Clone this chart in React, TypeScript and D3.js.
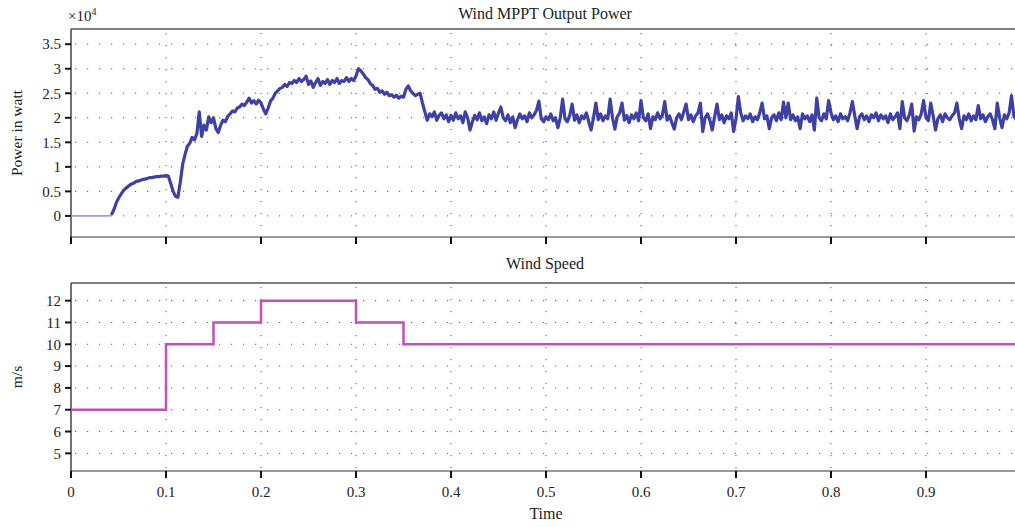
import React from "react";
import * as d3 from "d3";

// ---- data ----
const xTicks = [0, 0.1, 0.2, 0.3, 0.4, 0.5, 0.6, 0.7, 0.8, 0.9];
const powerTicks = [0, 0.5, 1, 1.5, 2, 2.5, 3, 3.5];
const speedTicks = [5, 6, 7, 8, 9, 10, 11, 12];

const powerStep = 0.0025; // seconds between samples
// power (x10^4 W), one row per 0.05 s
const power: number[] = [
  0,0,0,0,0,0,0,0,0,0,0,0,0,0,0,0,0,0.02,0.12,0.26,
  0.36,0.44,0.51,0.56,0.6,0.64,0.66,0.69,0.71,0.72,0.74,0.75,0.76,0.78,0.78,0.79,0.8,0.8,0.81,0.81,
  0.82,0.81,0.66,0.5,0.4,0.38,0.68,1.05,1.25,1.42,1.48,1.6,1.55,1.68,2.12,1.62,1.85,1.75,2.02,1.9,
  2.0,1.78,1.7,1.85,1.95,1.92,2.03,2.08,2.14,2.12,2.2,2.22,2.28,2.25,2.32,2.4,2.3,2.35,2.28,2.36,
  2.3,2.18,2.08,2.2,2.34,2.4,2.5,2.55,2.6,2.62,2.68,2.64,2.72,2.7,2.76,2.72,2.8,2.74,2.78,2.85,
  2.68,2.75,2.62,2.72,2.8,2.66,2.74,2.7,2.78,2.68,2.76,2.72,2.8,2.7,2.76,2.74,2.82,2.74,2.8,2.76,
  2.85,3.0,2.96,2.9,2.82,2.78,2.7,2.66,2.58,2.6,2.52,2.55,2.48,2.52,2.45,2.47,2.42,2.46,2.4,2.44,
  2.42,2.58,2.65,2.55,2.5,2.45,2.48,2.5,2.3,2.12,1.95,2.08,2.02,2.12,1.95,2.05,2.1,1.98,2.06,1.92,
  2.05,1.95,2.1,1.98,2.04,1.9,2.12,2.0,1.75,1.92,2.05,1.96,2.1,1.94,2.02,1.88,2.06,1.98,2.12,1.95,
  2.1,2.22,2.0,1.94,2.06,1.9,2.02,1.8,1.96,2.08,1.98,2.04,1.92,2.1,2.0,2.06,2.15,2.34,1.98,1.92,
  2.02,1.96,2.08,1.94,2.0,1.8,2.0,2.38,1.98,1.92,2.05,2.28,1.95,2.06,1.9,2.04,1.98,2.1,1.92,1.75,
  2.0,2.3,1.96,2.08,1.94,2.04,1.98,2.38,2.0,1.77,2.02,2.1,2.3,1.95,2.05,1.9,2.06,1.98,2.1,1.94,
  2.35,2.0,1.94,2.08,1.78,2.02,1.96,2.1,1.98,2.05,2.33,1.95,2.04,1.9,1.77,2.0,2.08,1.96,2.12,2.28,
  1.96,2.06,1.92,2.04,2.1,2.3,1.72,2.0,2.08,1.95,1.75,2.02,2.28,1.96,2.06,1.9,2.04,1.98,2.1,1.72,
  1.98,2.43,2.1,1.94,2.04,1.98,2.08,1.92,2.02,1.96,2.1,2.3,1.98,2.04,1.78,2.0,2.06,1.94,2.1,1.96,
  2.32,2.0,2.3,1.96,2.06,1.94,2.02,1.78,2.08,1.98,2.04,1.92,2.06,1.75,2.4,2.0,1.94,2.08,1.98,2.35,
  2.1,1.96,2.04,1.92,2.08,1.98,2.02,1.94,2.1,2.33,2.04,1.78,2.02,2.08,1.96,2.04,1.92,2.06,2.0,2.1,
  1.94,2.06,1.98,2.04,1.9,2.08,1.96,2.02,2.1,1.78,2.33,2.0,1.94,2.06,2.28,1.73,2.02,1.96,2.08,2.35,
  2.0,1.94,2.3,2.04,1.75,1.98,2.06,1.92,2.08,2.0,1.96,2.04,2.1,2.3,1.98,1.78,2.04,1.96,2.08,1.94,
  2.04,1.96,2.25,1.98,2.06,1.92,2.02,2.08,1.96,1.78,2.3,2.0,1.8,2.06,1.98,2.1,2.45,2.04,1.96,2.02,
];

const speedTimes = [0, 0.1, 0.15, 0.2, 0.3, 0.35, 1.0];
const speedValues = [7, 10, 11, 12, 11, 10, 10];

// ---- layout ----
const W = 1015;
const H = 527;
const left = 71;
const rightEnd = 1021;
const top1 = 29, bot1 = 237;
const top2 = 283, bot2 = 471;
const FONT = "'Liberation Serif', 'Times New Roman', serif";

export default function App() {
  const x = d3.scaleLinear().domain([0, 1]).range([left, rightEnd]);
  const y1 = d3.scaleLinear().domain([-0.43, 3.81]).range([bot1, top1]);
  const y2 = d3.scaleLinear().domain([4.19, 12.81]).range([bot2, top2]);

  const pts: [number, number][] = power.map((v, i) => [i * powerStep, v]);
  const zeroPts = pts.slice(0, 18);
  const livePts = pts.slice(17);
  const line1 = d3.line<[number, number]>().x(d => x(d[0])).y(d => y1(d[1]));
  const line2 = d3
    .line<number>()
    .x((_, i) => x(speedTimes[i]))
    .y(d => y2(d))
    .curve(d3.curveStepAfter);

  const grid = "#555";
  const dash = "1.2,10.8";

  const panel = (
    y: d3.ScaleLinear<number, number>,
    top: number,
    bot: number,
    yTicks: number[],
    showLabels: boolean,
    key: string
  ) => (
    <g key={key}>
      {yTicks.map(t => (
        <line key={"h" + t} x1={left + 4} x2={W} y1={y(t)} y2={y(t)} stroke={grid} strokeWidth={1} strokeDasharray={dash} />
      ))}
      {xTicks.filter(t => t > 0).map(t => (
        <line key={"v" + t} x1={x(t)} x2={x(t)} y1={top + 4} y2={bot} stroke={grid} strokeWidth={1} strokeDasharray={dash} />
      ))}
      <line x1={left} x2={W} y1={top} y2={top} stroke="#555" strokeWidth={1.5} />
      <line x1={left} x2={W} y1={bot} y2={bot} stroke="#777" strokeWidth={1.5} />
      <line x1={left} x2={left} y1={top} y2={bot} stroke="#444" strokeWidth={1.5} />
      {yTicks.map(t => (
        <g key={"yt" + t}>
          <line x1={left - 6} x2={left} y1={y(t)} y2={y(t)} stroke="#111" strokeWidth={2} />
          <text x={left - 10} y={y(t)} dy="0.35em" textAnchor="end" fontSize={15} fontFamily={FONT} fill="#222">
            {t}
          </text>
        </g>
      ))}
      {xTicks.map(t => (
        <g key={"xt" + t}>
          <line x1={x(t)} x2={x(t)} y1={bot} y2={bot + 7} stroke="#111" strokeWidth={2} />
          {showLabels && (
            <text x={x(t)} y={bot + 26} textAnchor="middle" fontSize={15} fontFamily={FONT} fill="#222">
              {t}
            </text>
          )}
        </g>
      ))}
    </g>
  );

  return (
    <svg width={W} height={H} style={{ position: "absolute", left: 0, top: 0, background: "#fff" }}>
      <defs>
        <clipPath id="c1">
          <rect x={left} y={top1} width={W - left} height={bot1 - top1} />
        </clipPath>
        <clipPath id="c2">
          <rect x={left} y={top2} width={W - left} height={bot2 - top2} />
        </clipPath>
      </defs>
      <rect x={0} y={0} width={W} height={H} fill="#fff" />
      {panel(y1, top1, bot1, powerTicks, false, "p1")}
      {panel(y2, top2, bot2, speedTicks, true, "p2")}

      <g clipPath="url(#c1)">
        <path d={line1(zeroPts) || ""} fill="none" stroke="#9c9ce0" strokeWidth={1.6} />
        <path d={line1(livePts) || ""} fill="none" stroke="#3e40a3" strokeWidth={3.2} strokeLinejoin="round" />
      </g>
      <g clipPath="url(#c2)">
        <path d={line2(speedValues) || ""} fill="none" stroke="#c54fb4" strokeWidth={2.5} />
      </g>

      <text x={545} y={19} textAnchor="middle" fontSize={16} fontFamily={FONT} fill="#222">
        Wind MPPT Output Power
      </text>
      <text x={545} y={269} textAnchor="middle" fontSize={16} fontFamily={FONT} fill="#222">
        Wind Speed
      </text>
      <text x={546} y={519} textAnchor="middle" fontSize={16} fontFamily={FONT} fill="#222">
        Time
      </text>
      <text transform={`translate(22,${(top1 + bot1) / 2}) rotate(-90)`} textAnchor="middle" fontSize={15.5} fontFamily={FONT} fill="#222">
        Power in watt
      </text>
      <text transform={`translate(22,${(top2 + bot2) / 2}) rotate(-90)`} textAnchor="middle" fontSize={15.5} fontFamily={FONT} fill="#222">
        m/s
      </text>
      <text x={68} y={21} fontSize={15} fontFamily={FONT} fill="#222">
        ×10
        <tspan dy={-6} fontSize={10}>4</tspan>
      </text>
    </svg>
  );
}
